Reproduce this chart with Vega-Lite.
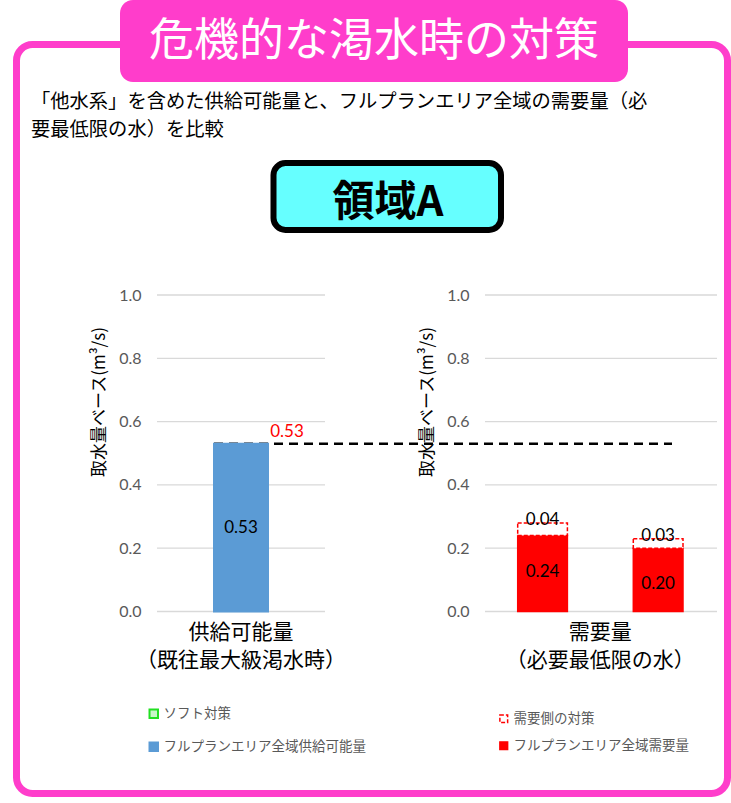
{
  "$schema": "https://vega.github.io/schema/vega-lite/v6.json",
  "width": 731,
  "height": 803,
  "autosize": {"type": "fit", "contains": "padding"},
  "padding": 0,
  "background": "#ffffff",
  "config": {"view": {"stroke": null}, "font": "Noto Sans CJK JP"},
  "datasets": {
    "canvas": [{"part": "decoration"}],
    "supply": [
      {"item": "供給可能量（既往最大級渇水時）", "type": "フルプランエリア全域供給可能量", "value": 0.53}
    ],
    "demand": [
      {"item": "需要量（必要最低限の水）", "case": "ケース1", "type": "フルプランエリア全域需要量", "value": 0.24},
      {"item": "需要量（必要最低限の水）", "case": "ケース1", "type": "需要側の対策", "value": 0.04},
      {"item": "需要量（必要最低限の水）", "case": "ケース2", "type": "フルプランエリア全域需要量", "value": 0.20},
      {"item": "需要量（必要最低限の水）", "case": "ケース2", "type": "需要側の対策", "value": 0.03}
    ],
    "gridTicks": [{"tick": 0}, {"tick": 0.2}, {"tick": 0.4}, {"tick": 0.6}, {"tick": 0.8}, {"tick": 1.0}]
  },
  "resolve": {"scale": {"x": "independent", "y": "independent"}},
  "layer": [
    {
      "data": {"name": "canvas"},
      "layer": [
        {
          "mark": {"type": "rect", "fill": "#ffffff", "fillOpacity": 0, "stroke": "#ff3dcb", "strokeWidth": 7, "cornerRadius": 16},
          "encoding": {
            "x": {"datum": 16.5, "type": "quantitative", "scale": {"domain": [0, 731], "nice": false, "zero": false}, "axis": null},
            "x2": {"datum": 727.5},
            "y": {"datum": 44.5, "type": "quantitative", "scale": {"domain": [0, 803], "reverse": true, "nice": false, "zero": false}, "axis": null},
            "y2": {"datum": 793.5}
          }
        },
        {
          "mark": {"type": "rect", "fill": "#ff3dcb", "cornerRadius": 13},
          "encoding": {
            "x": {"datum": 120, "type": "quantitative", "axis": null},
            "x2": {"datum": 628},
            "y": {"datum": 0, "type": "quantitative", "axis": null},
            "y2": {"datum": 82}
          }
        },
        {
          "mark": {"type": "text", "text": "危機的な渇水時の対策", "fontSize": 45, "color": "#ffffff", "align": "center", "baseline": "middle", "font": "Noto Sans CJK JP"},
          "encoding": {
            "x": {"datum": 374, "type": "quantitative", "axis": null},
            "y": {"datum": 42, "type": "quantitative", "axis": null}
          }
        },
        {
          "mark": {"type": "text", "text": "「他水系」を含めた供給可能量と、フルプランエリア全域の需要量（必", "fontSize": 19.3, "color": "#000000", "align": "left", "baseline": "middle", "font": "Noto Sans CJK JP"},
          "encoding": {
            "x": {"datum": 31, "type": "quantitative", "axis": null},
            "y": {"datum": 102, "type": "quantitative", "axis": null}
          }
        },
        {
          "mark": {"type": "text", "text": "要最低限の水）を比較", "fontSize": 19.3, "color": "#000000", "align": "left", "baseline": "middle", "font": "Noto Sans CJK JP"},
          "encoding": {
            "x": {"datum": 31, "type": "quantitative", "axis": null},
            "y": {"datum": 130, "type": "quantitative", "axis": null}
          }
        },
        {
          "mark": {"type": "rect", "fill": "#66ffff", "stroke": "#000000", "strokeWidth": 6, "cornerRadius": 12},
          "encoding": {
            "x": {"datum": 273.5, "type": "quantitative", "axis": null},
            "x2": {"datum": 501},
            "y": {"datum": 163, "type": "quantitative", "axis": null},
            "y2": {"datum": 230}
          }
        },
        {
          "mark": {"type": "text", "text": "領域A", "fontSize": 42, "fontWeight": "bold", "color": "#000000", "align": "center", "baseline": "middle", "font": "Noto Sans CJK JP"},
          "encoding": {
            "x": {"datum": 388, "type": "quantitative", "axis": null},
            "y": {"datum": 203, "type": "quantitative", "axis": null}
          }
        }
      ]
    },
    {
      "resolve": {
        "scale": {"x": "independent", "xOffset": "independent", "fill": "independent", "stroke": "independent", "strokeDash": "independent"},
        "axis": {"x": "independent", "y": "independent"},
        "legend": {"fill": "independent", "stroke": "independent", "strokeDash": "independent"}
      },
      "layer": [
        {
          "layer": [
            {
              "data": {"name": "gridTicks"},
              "mark": {"type": "rule", "color": "#d9d9d9", "strokeWidth": 1.3},
              "encoding": {
                "x": {"datum": 157, "type": "quantitative", "scale": {"domain": [0, 731], "nice": false, "zero": false}, "axis": null},
                "x2": {"datum": 325},
                "y": {"field": "tick", "type": "quantitative", "scale": {"domain": [-0.605, 1.9321], "nice": false, "zero": false}, "axis": null}
              }
            },
            {
              "data": {"name": "gridTicks"},
              "mark": {"type": "rule", "color": "#d9d9d9", "strokeWidth": 1.3},
              "encoding": {
                "x": {"datum": 485, "type": "quantitative", "axis": null},
                "x2": {"datum": 717},
                "y": {"field": "tick", "type": "quantitative", "axis": null}
              }
            },
            {
              "data": {"name": "supply"},
              "mark": {"type": "rule", "color": "#000000", "strokeWidth": 2.5, "strokeDash": [9, 6]},
              "encoding": {
                "x": {"datum": 214, "type": "quantitative", "axis": null},
                "x2": {"datum": 672},
                "y": {"field": "value", "type": "quantitative", "axis": null}
              }
            }
          ]
        },
        {
          "data": {"name": "supply"},
          "encoding": {
            "x": {
              "field": "item", "type": "nominal",
              "scale": {"range": [214, 268], "paddingInner": 0, "paddingOuter": 0},
              "axis": {"orient": "bottom", "offset": -191.5, "title": null, "domain": false, "ticks": false, "labelAngle": 0, "labelLimit": 0, "labelFontSize": 21, "labelColor": "#000000", "labelFont": "Noto Sans CJK JP", "labelLineHeight": 28, "labelPadding": 10, "labelExpr": "[split(datum.label, '（')[0], '（' + split(datum.label, '（')[1]]"}
            },
            "y": {
              "field": "value", "type": "quantitative",
              "scale": {"domain": [-0.605, 1.9321], "nice": false, "zero": false},
              "axis": {"orient": "left", "offset": -157, "values": [0, 0.2, 0.4, 0.6, 0.8, 1], "format": ".1f", "grid": false, "domain": false, "ticks": false, "labelPadding": 16, "labelFont": "Lato", "labelFontSize": 16, "labelColor": "#595959", "title": "取水量ベース(m³/s)", "titleFont": "Noto Sans CJK JP", "titleFontSize": 17, "titleFontWeight": "normal", "titleColor": "#000000", "titlePadding": 10}
            }
          },
          "layer": [
            {
              "mark": {"type": "bar", "strokeWidth": 2},
              "encoding": {
                "y2": {"datum": 0},
                "fill": {
                  "field": "type", "type": "nominal",
                  "scale": {"domain": ["ソフト対策", "フルプランエリア全域供給可能量"], "range": ["#c8f7c8", "#5b9bd5"]},
                  "legend": {"orient": "none", "legendX": 147, "legendY": 707, "title": null, "symbolType": "square", "symbolSize": 72, "symbolStrokeWidth": 2, "labelFont": "Noto Sans CJK JP", "labelFontSize": 13.5, "labelColor": "#595959", "labelLimit": 0, "rowPadding": 16, "labelOffset": 3, "padding": 0}
                },
                "stroke": {
                  "field": "type", "type": "nominal",
                  "scale": {"domain": ["ソフト対策", "フルプランエリア全域供給可能量"], "range": ["#22e022", "#5b9bd5"]},
                  "legend": {"orient": "none", "legendX": 147, "legendY": 707, "title": null, "symbolType": "square", "symbolSize": 72, "symbolStrokeWidth": 2, "labelFont": "Noto Sans CJK JP", "labelFontSize": 13.5, "labelColor": "#595959", "labelLimit": 0, "rowPadding": 16, "labelOffset": 3, "padding": 0}
                }
              }
            },
            {
              "mark": {"type": "text", "font": "Lato", "fontSize": 17, "color": "#000000", "dy": 84, "baseline": "middle", "align": "center"},
              "encoding": {"text": {"field": "value", "type": "quantitative", "format": ".2f"}}
            },
            {
              "mark": {"type": "text", "font": "Lato", "fontSize": 17, "color": "#ff0000", "dx": 46, "dy": -12, "baseline": "middle", "align": "center"},
              "encoding": {"text": {"field": "value", "type": "quantitative", "format": ".2f"}}
            }
          ]
        },
        {
          "data": {"name": "demand"},
          "transform": [
            {"stack": "value", "groupby": ["item", "case"], "sort": [{"field": "type", "order": "ascending"}], "as": ["v0", "v1"]}
          ],
          "encoding": {
            "x": {
              "field": "item", "type": "nominal",
              "scale": {"range": [517.7, 683], "paddingInner": 0, "paddingOuter": 0},
              "axis": {"orient": "bottom", "offset": -191.5, "title": null, "domain": false, "ticks": false, "labelAngle": 0, "labelLimit": 0, "labelFontSize": 21, "labelColor": "#000000", "labelFont": "Noto Sans CJK JP", "labelLineHeight": 28, "labelPadding": 10, "labelDx": -6, "labelExpr": "[split(datum.label, '（')[0], '（' + split(datum.label, '（')[1]]"}
            },
            "xOffset": {"field": "case", "type": "nominal", "scale": {"paddingInner": 0.57, "paddingOuter": 0}},
            "y": {
              "field": "v1", "type": "quantitative",
              "scale": {"domain": [-0.605, 1.9321], "nice": false, "zero": false},
              "axis": {"orient": "left", "offset": -485, "values": [0, 0.2, 0.4, 0.6, 0.8, 1], "format": ".1f", "grid": false, "domain": false, "ticks": false, "labelPadding": 16, "labelFont": "Lato", "labelFontSize": 16, "labelColor": "#595959", "title": "取水量ベース(m³/s)", "titleFont": "Noto Sans CJK JP", "titleFontSize": 17, "titleFontWeight": "normal", "titleColor": "#000000", "titlePadding": 10}
            }
          },
          "layer": [
            {
              "mark": {"type": "bar", "strokeWidth": 1.5},
              "encoding": {
                "y2": {"field": "v0"},
                "fill": {
                  "field": "type", "type": "nominal",
                  "scale": {"domain": ["需要側の対策", "フルプランエリア全域需要量"], "range": ["#ffffff", "#ff0000"]},
                  "legend": {"orient": "none", "legendX": 497, "legendY": 712, "title": null, "symbolType": "square", "symbolSize": 60, "symbolStrokeWidth": 1.5, "labelFont": "Noto Sans CJK JP", "labelFontSize": 13.5, "labelColor": "#595959", "labelLimit": 0, "rowPadding": 12, "labelOffset": 3, "padding": 0}
                },
                "stroke": {
                  "field": "type", "type": "nominal",
                  "scale": {"domain": ["需要側の対策", "フルプランエリア全域需要量"], "range": ["#ff0000", "#ff0000"]},
                  "legend": {"orient": "none", "legendX": 497, "legendY": 712, "title": null, "symbolType": "square", "symbolSize": 60, "symbolStrokeWidth": 1.5, "labelFont": "Noto Sans CJK JP", "labelFontSize": 13.5, "labelColor": "#595959", "labelLimit": 0, "rowPadding": 12, "labelOffset": 3, "padding": 0}
                },
                "strokeDash": {
                  "field": "type", "type": "nominal",
                  "scale": {"domain": ["需要側の対策", "フルプランエリア全域需要量"], "range": [[4, 2], [1, 0]]},
                  "legend": {"orient": "none", "legendX": 497, "legendY": 712, "title": null, "symbolType": "square", "symbolSize": 60, "symbolStrokeWidth": 1.5, "labelFont": "Noto Sans CJK JP", "labelFontSize": 13.5, "labelColor": "#595959", "labelLimit": 0, "rowPadding": 12, "labelOffset": 3, "padding": 0}
                }
              }
            },
            {
              "transform": [{"filter": "datum.type === 'フルプランエリア全域需要量'"}],
              "mark": {"type": "text", "font": "Lato", "fontSize": 17, "color": "#000000", "dy": 36, "baseline": "middle", "align": "center"},
              "encoding": {"text": {"field": "value", "type": "quantitative", "format": ".2f"}}
            },
            {
              "transform": [{"filter": "datum.type === '需要側の対策'"}],
              "mark": {"type": "text", "font": "Lato", "fontSize": 17, "color": "#000000", "dy": -3, "baseline": "middle", "align": "center"},
              "encoding": {"text": {"field": "value", "type": "quantitative", "format": ".2f"}}
            }
          ]
        }
      ]
    }
  ]
}
